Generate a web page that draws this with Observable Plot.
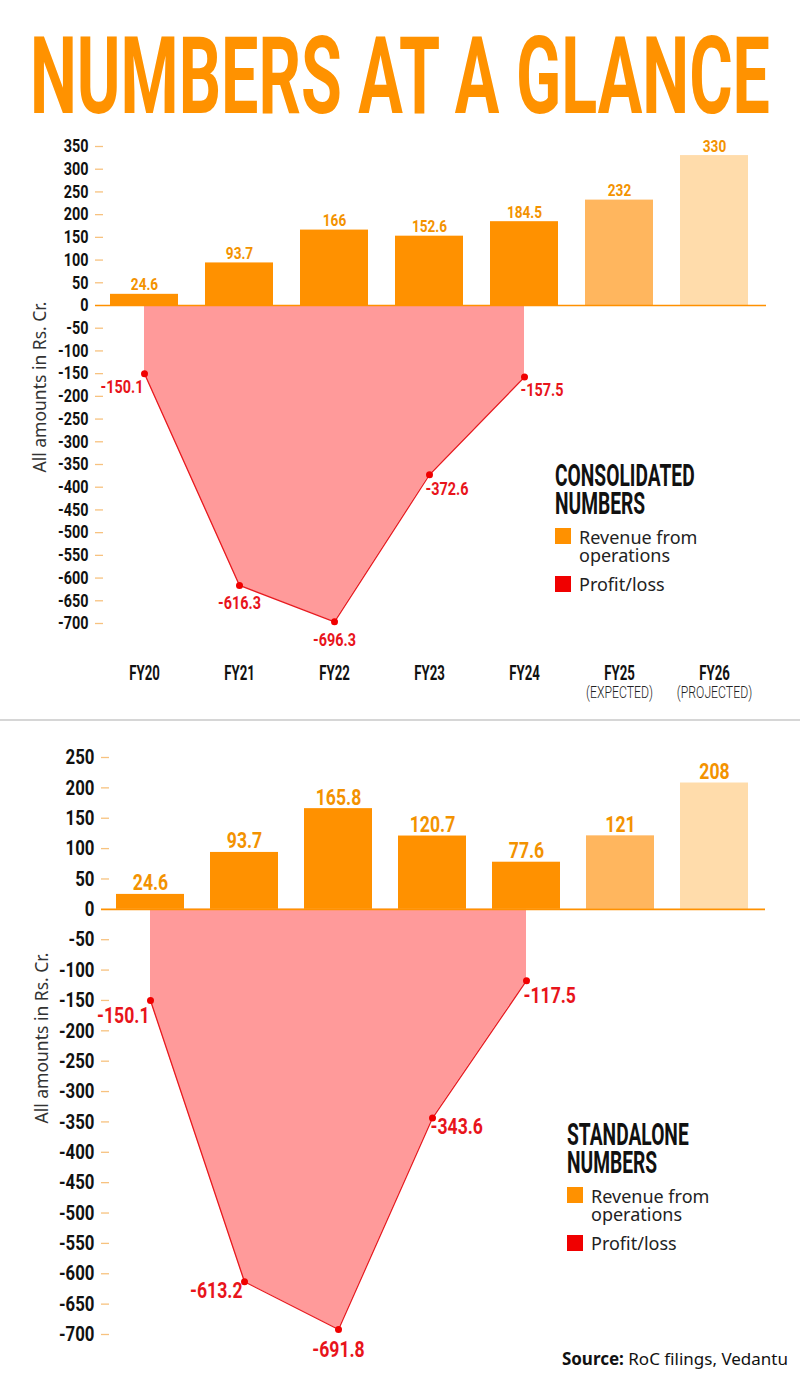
<!DOCTYPE html>
<html>
<head>
<meta charset="utf-8">
<script src="https://cdn.jsdelivr.net/npm/d3@7"></script>
<script src="https://cdn.jsdelivr.net/npm/@observablehq/plot@0.6"></script>
<style>
  html, body { margin: 0; padding: 0; background: #fff; }
  #page { position: relative; width: 800px; height: 1378px; overflow: hidden; background: #fff; }
  .abs { position: absolute; }
  .lg-title { position: absolute; font-family: Roboto, sans-serif; font-weight: 700; font-size: 32px; line-height: 28px; height: 28px; color: #111; transform: scaleX(0.6); transform-origin: 0 0; white-space: nowrap; }
  .lg-sw { position: absolute; width: 16px; height: 16px; }
  .lg-txt { position: absolute; font-family: "Noto Sans", sans-serif; font-size: 18px; line-height: 18px; height: 18px; color: #222; white-space: nowrap; }
  .divider { position: absolute; left: 0; width: 800px; height: 2px; background: #d6d6d6; }
  .source { position: absolute; right: 12px; font-family: "Noto Sans", sans-serif; font-size: 17px; color: #111; white-space: nowrap; }
</style>
</head>
<body>
<div id="page"></div>
<script>
// ---------------- DATA ----------------
const years = ["FY20", "FY21", "FY22", "FY23", "FY24", "FY25", "FY26"];
const yearNotes = ["", "", "", "", "", "(EXPECTED)", "(PROJECTED)"];
const barKinds = ["actual", "actual", "actual", "actual", "actual", "expected", "projected"];

const consolidatedRevenue = [24.6, 93.7, 166, 152.6, 184.5, 232, 330];
const consolidatedProfit = [-150.1, -616.3, -696.3, -372.6, -157.5, null, null];
const standaloneRevenue = [24.6, 93.7, 165.8, 120.7, 77.6, 121, 208];
const standaloneProfit = [-150.1, -613.2, -691.8, -343.6, -117.5, null, null];

const consolidatedTicks = [350, 300, 250, 200, 150, 100, 50, 0, -50, -100, -150, -200, -250, -300, -350, -400, -450, -500, -550, -600, -650, -700];
const standaloneTicks = [250, 200, 150, 100, 50, 0, -50, -100, -150, -200, -250, -300, -350, -400, -450, -500, -550, -600, -650, -700];

// label placement (style only)
const consolidatedLossPlacement = [
  {anchor: "end", dx: -1, dy: 14},
  {anchor: "middle", dx: 0, dy: 18},
  {anchor: "middle", dx: 0, dy: 18},
  {anchor: "start", dx: -4, dy: 14},
  {anchor: "start", dx: -4, dy: 13}
];
const standaloneLossPlacement = [
  {anchor: "end", dx: -1, dy: 15},
  {anchor: "end", dx: -2, dy: 9},
  {anchor: "middle", dx: 0, dy: 20},
  {anchor: "start", dx: -2, dy: 9},
  {anchor: "start", dx: -3, dy: 15}
];

const barColors = {actual: "#ff9100", expected: "#ffb65e", projected: "#ffdcab"};
const BAR_LABEL = "#f39200";
const LOSS_LABEL = "#e8141b";
const NOTE = "#222222";
const COND = "Roboto, sans-serif";

// ---------------- HELPERS ----------------
function condense(root, selector, factor) {
  root.querySelectorAll(selector).forEach(t => {
    const len = t.getComputedTextLength();
    if (len > 0) {
      t.setAttribute("textLength", (len * factor).toFixed(2));
      t.setAttribute("lengthAdjust", "spacingAndGlyphs");
    }
  });
}

function makeChart(cfg) {
  const {revenue, profit, ticks, placement, height, marginTop, marginBottom, marginLeft, marginRight,
         domain, tickFont, barFont, lossFont, showX, yLabelDx, yLabelDy} = cfg;
  const width = 800;
  const pw = width - marginLeft - marginRight;
  const rows = years.map((year, i) => ({year, note: yearNotes[i], kind: barKinds[i], revenue: revenue[i], profit: profit[i]}));
  const loss = rows.filter(d => d.profit != null);

  const marks = [
    Plot.areaY(loss, {x: "year", y: "profit", fill: "#ff9a9a"}),
    Plot.lineY(loss, {x: "year", y: "profit", stroke: "#e81a1f", strokeWidth: 1.3}),
    Plot.dot(loss, {x: "year", y: "profit", r: 3.5, fill: "#f00000"}),
    Plot.barY(rows, {x: "year", y: "revenue", fill: d => barColors[d.kind]}),
    Plot.ruleY([0], {stroke: "#ff9100", strokeWidth: 1.6, insetRight: -2}),
    Plot.tickY(ticks.filter(t => t !== 0), {y: d => d, stroke: "#f7c27f", strokeWidth: 1.3, insetRight: pw - 8}),
    Plot.axisY({ticks, tickSize: 0, tickPadding: 7, tickFormat: d => String(d), label: null,
      fontSize: tickFont, fontWeight: 700, fontFamily: COND, fill: "#111"}),
    Plot.text(rows, {x: "year", y: "revenue", text: d => String(d.revenue), dy: -4, lineAnchor: "bottom",
      fill: BAR_LABEL, fontSize: barFont, fontWeight: 700, fontFamily: COND}),
    Plot.text(["All amounts in Rs. Cr."], {frameAnchor: "left", textAnchor: "middle", rotate: -90, dx: yLabelDx, dy: yLabelDy,
      fontSize: 17.5, fontFamily: "Noto Sans, sans-serif", fill: "#333"})
  ];
  loss.forEach((d, i) => {
    const p = placement[i];
    marks.push(Plot.text([d], {x: "year", y: "profit", text: v => String(v.profit), textAnchor: p.anchor,
      dx: p.dx, dy: p.dy, fill: LOSS_LABEL, fontSize: lossFont, fontWeight: 700, fontFamily: COND}));
  });
  if (showX) {
    marks.push(Plot.axisX({tickSize: 0, tickPadding: 42, label: null, fontSize: 20, fontWeight: 700, fontFamily: COND, fill: "#111"}));
    marks.push(Plot.text(rows.filter(d => d.note), {x: "year", text: "note", frameAnchor: "bottom", dy: 62, lineAnchor: "top",
      fontSize: 17, fontWeight: 300, fontFamily: COND, fill: NOTE}));
  }

  return Plot.plot({
    width, height, marginTop, marginBottom, marginLeft, marginRight,
    style: {background: "transparent", overflow: "visible"},
    x: {type: "band", domain: years, paddingInner: 0.28, paddingOuter: 0.14, axis: null},
    y: {domain, axis: null},
    marks
  });
}

// ---------------- PAGE ----------------
const page = document.getElementById("page");

// title: natural width fitted to 740px, then stretched vertically to the tall condensed look
const title = d3.create("svg").attr("width", 800).attr("height", 150).attr("class", "abs")
  .style("left", "0px").style("top", "0px").style("overflow", "visible");
const tText = title.append("text")
  .attr("x", 0).attr("y", 0)
  .attr("font-family", COND).attr("font-weight", 700).attr("font-size", 100)
  .attr("fill", "#ff9200").text("NUMBERS AT A GLANCE");
page.appendChild(title.node());
{
  const natural = tText.node().getComputedTextLength();
  const fs = 100 * 740 / natural;            // font size that makes the text 740px wide
  const capH = 0.711 * fs;
  const sy = 76 / capH;                      // vertical stretch to a 76px cap height
  tText.attr("font-size", fs.toFixed(2))
       .attr("transform", `translate(30,113) scale(1,${sy.toFixed(4)})`);
}

// chart 1
const c1 = makeChart({
  revenue: consolidatedRevenue, profit: consolidatedProfit, ticks: consolidatedTicks, placement: consolidatedLossPlacement,
  height: 590, marginTop: 16, marginBottom: 97, marginLeft: 95, marginRight: 36, domain: [-700, 350],
  tickFont: 18, barFont: 17, lossFont: 18, showX: true, yLabelDx: -55, yLabelDy: 2
});
c1.classList.add("abs"); c1.style.left = "0px"; c1.style.top = "130px";
page.appendChild(c1);

const div = document.createElement("div");
div.className = "divider"; div.style.top = "719px";
page.appendChild(div);

// chart 2
const c2 = makeChart({
  revenue: standaloneRevenue, profit: standaloneProfit, ticks: standaloneTicks, placement: standaloneLossPlacement,
  height: 648, marginTop: 27, marginBottom: 44, marginLeft: 101, marginRight: 37, domain: [-700, 250],
  tickFont: 21, barFont: 22, lossFont: 22, showX: false, yLabelDx: -59, yLabelDy: -8
});
c2.classList.add("abs"); c2.style.left = "0px"; c2.style.top = "730px";
page.appendChild(c2);

// condense the condensed-type texts
function byFill(svg, fill) {
  return Array.from(svg.querySelectorAll("g")).filter(g => (g.getAttribute("fill") || "").toLowerCase() === fill.toLowerCase());
}
[c1, c2].forEach(svg => {
  condense(svg, 'g[aria-label="y-axis tick label"] text', 0.8);
  condense(svg, 'g[aria-label="x-axis tick label"] text', 0.66);
  byFill(svg, BAR_LABEL).forEach(g => condense(g, "text", 0.8));
  byFill(svg, LOSS_LABEL).forEach(g => condense(g, "text", 0.8));
  byFill(svg, NOTE).forEach(g => condense(g, "text", 0.72));
});

// legends
function addDiv(cls, left, top, html, bg) {
  const d = document.createElement("div");
  d.className = cls; d.style.left = left + "px"; d.style.top = top + "px";
  if (html != null) d.innerHTML = html;
  if (bg) d.style.background = bg;
  page.appendChild(d);
}
function legend(left, top, heading) {
  addDiv("lg-title", left, top, heading);
  addDiv("lg-title", left, top + 28, "NUMBERS");
  addDiv("lg-sw", left, top + 67, null, barColors.actual);
  addDiv("lg-txt", left + 24, top + 67, "Revenue from");
  addDiv("lg-txt", left + 24, top + 85, "operations");
  addDiv("lg-sw", left, top + 115, null, "#f00000");
  addDiv("lg-txt", left + 24, top + 114, "Profit/loss");
}
legend(555, 461, "CONSOLIDATED");
legend(567, 1120, "STANDALONE");

// source
const src = document.createElement("div");
src.className = "source"; src.style.top = "1347px";
src.innerHTML = "<b>Source:</b> RoC filings, Vedantu";
page.appendChild(src);
</script>
</body>
</html>
